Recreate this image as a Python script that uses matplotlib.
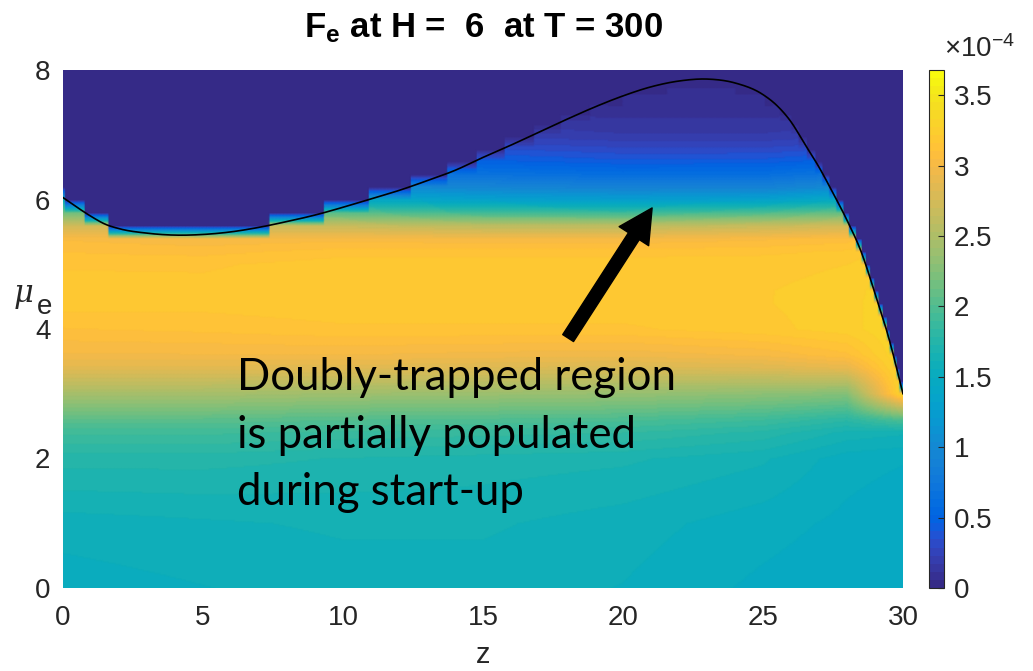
import numpy as np
import matplotlib
matplotlib.use("Agg")
import matplotlib.pyplot as plt
from matplotlib.colors import ListedColormap, Normalize

plt.rcParams["font.family"] = ["Liberation Sans", "DejaVu Sans"]
plt.rcParams["mathtext.fontset"] = "custom"
plt.rcParams["mathtext.rm"] = "Liberation Sans"
plt.rcParams["mathtext.bf"] = "Liberation Sans:bold"
plt.rcParams["mathtext.it"] = "Liberation Sans:italic"

# ---------------- data ----------------
F_UNIT = 1e-4
F_MAX = 3.68  # top of colour scale, in units of 1e-4

z_knots = [0, 5, 10, 15, 20, 25, 28, 30]
mu_knots = [0, 1, 2, 2.5, 3, 3.5, 4, 4.5, 5, 5.3, 5.5, 5.7, 5.9, 6.1, 6.3, 6.5, 6.7, 7.0, 7.4, 8.0]
# rows follow mu_knots, columns follow z_knots (units of 1e-4)
F_table = [
    [1.52, 1.55, 1.58, 1.58, 1.55, 1.48, 1.45, 1.45],
    [1.58, 1.60, 1.62, 1.62, 1.58, 1.52, 1.48, 1.45],
    [1.75, 1.75, 1.72, 1.70, 1.68, 1.62, 1.52, 1.50],
    [1.95, 1.95, 1.92, 1.90, 1.88, 1.80, 1.68, 1.65],
    [2.45, 2.45, 2.40, 2.38, 2.35, 2.30, 2.25, 3.35],
    [2.95, 2.95, 2.95, 2.92, 2.90, 2.95, 3.05, 3.35],
    [3.10, 3.12, 3.15, 3.15, 3.15, 3.20, 3.25, 3.35],
    [3.22, 3.20, 3.22, 3.22, 3.22, 3.22, 3.25, 3.35],
    [3.15, 3.15, 3.20, 3.20, 3.20, 3.20, 3.22, 3.30],
    [3.08, 3.05, 3.10, 3.10, 3.10, 3.12, 3.15, 3.25],
    [3.00, 2.95, 2.95, 2.90, 2.90, 2.95, 3.00, 3.15],
    [2.50, 2.45, 2.40, 2.30, 2.30, 2.40, 2.50, 2.80],
    [1.80, 1.75, 1.70, 1.55, 1.50, 1.60, 1.75, 2.30],
    [1.30, 1.25, 1.20, 1.10, 1.05, 1.05, 1.20, 1.80],
    [0.90, 0.90, 0.85, 0.80, 0.75, 0.75, 0.85, 1.30],
    [0.70, 0.70, 0.65, 0.55, 0.48, 0.50, 0.60, 0.90],
    [0.50, 0.50, 0.48, 0.40, 0.35, 0.35, 0.40, 0.60],
    [0.30, 0.30, 0.28, 0.22, 0.18, 0.18, 0.22, 0.35],
    [0.15, 0.15, 0.13, 0.10, 0.08, 0.08, 0.10, 0.15],
    [0.05, 0.05, 0.05, 0.04, 0.04, 0.04, 0.05, 0.05],
]

# trapping boundary (black curve)
curve_z = [0, 0.5, 1, 1.5, 2, 3, 4, 5, 6, 7, 8, 9, 10, 11, 12, 13, 14, 15, 16, 17,
           18, 19, 20, 21, 22, 23, 24, 25, 25.5, 26, 26.5, 27, 27.5, 28, 28.5, 29, 29.5, 30]
curve_mu = [6.03, 5.88, 5.74, 5.62, 5.55, 5.48, 5.45, 5.46, 5.50, 5.57, 5.66, 5.76, 5.88,
            6.01, 6.14, 6.29, 6.45, 6.65, 6.84, 7.04, 7.24, 7.43, 7.60, 7.74, 7.83, 7.86,
            7.80, 7.62, 7.45, 7.20, 6.85, 6.50, 6.10, 5.68, 5.20, 4.55, 3.85, 3.00]

x_ticks = [0, 5, 10, 15, 20, 25, 30]
y_ticks = [0, 2, 4, 6, 8]
cbar_ticks = [0, 0.5, 1, 1.5, 2, 2.5, 3, 3.5]
cbar_labels = ["0", "0.5", "1", "1.5", "2", "2.5", "3", "3.5"]

title_text = r"$\mathbf{F_e}$ at H =  6  at T = 300"
note_lines = ["Doubly-trapped region", "is partially populated", "during start-up"]
arrow_tail = (18.04, 3.86)
arrow_head = (21.04, 5.87)

# ---------------- colormap (parula) ----------------
PARULA = [
    [0.2081, 0.1663, 0.5292], [0.2116, 0.1898, 0.5777], [0.2123, 0.2138, 0.6270],
    [0.2081, 0.2386, 0.6771], [0.1959, 0.2645, 0.7279], [0.1707, 0.2919, 0.7792],
    [0.1253, 0.3242, 0.8303], [0.0591, 0.3598, 0.8683], [0.0117, 0.3875, 0.8820],
    [0.0060, 0.4086, 0.8828], [0.0165, 0.4266, 0.8786], [0.0329, 0.4430, 0.8720],
    [0.0498, 0.4586, 0.8641], [0.0629, 0.4737, 0.8554], [0.0723, 0.4887, 0.8467],
    [0.0779, 0.5040, 0.8384], [0.0793, 0.5200, 0.8312], [0.0749, 0.5375, 0.8263],
    [0.0641, 0.5570, 0.8240], [0.0488, 0.5772, 0.8228], [0.0343, 0.5966, 0.8199],
    [0.0265, 0.6137, 0.8135], [0.0239, 0.6287, 0.8038], [0.0231, 0.6418, 0.7913],
    [0.0228, 0.6535, 0.7768], [0.0267, 0.6642, 0.7607], [0.0384, 0.6743, 0.7436],
    [0.0590, 0.6838, 0.7254], [0.0843, 0.6928, 0.7062], [0.1133, 0.7015, 0.6859],
    [0.1453, 0.7098, 0.6646], [0.1801, 0.7177, 0.6424], [0.2178, 0.7250, 0.6193],
    [0.2586, 0.7317, 0.5954], [0.3022, 0.7376, 0.5712], [0.3482, 0.7424, 0.5473],
    [0.3953, 0.7459, 0.5244], [0.4420, 0.7481, 0.5033], [0.4871, 0.7491, 0.4840],
    [0.5300, 0.7491, 0.4661], [0.5709, 0.7485, 0.4494], [0.6099, 0.7473, 0.4337],
    [0.6473, 0.7456, 0.4188], [0.6834, 0.7435, 0.4044], [0.7184, 0.7411, 0.3905],
    [0.7525, 0.7384, 0.3768], [0.7858, 0.7356, 0.3633], [0.8185, 0.7327, 0.3498],
    [0.8507, 0.7299, 0.3360], [0.8824, 0.7274, 0.3217], [0.9139, 0.7258, 0.3063],
    [0.9450, 0.7261, 0.2886], [0.9739, 0.7314, 0.2666], [0.9938, 0.7455, 0.2403],
    [0.9990, 0.7653, 0.2164], [0.9955, 0.7861, 0.1967], [0.9880, 0.8066, 0.1794],
    [0.9789, 0.8271, 0.1633], [0.9697, 0.8481, 0.1475], [0.9626, 0.8705, 0.1309],
    [0.9589, 0.8949, 0.1132], [0.9598, 0.9218, 0.0948], [0.9661, 0.9514, 0.0755],
    [0.9763, 0.9831, 0.0538],
]
cmap = ListedColormap(PARULA, name="parula")


def smooth_curve(xk, yk, x):
    """Cubic Hermite through the read points (for drawing / masking)."""
    xk = np.asarray(xk, float)
    yk = np.asarray(yk, float)
    m = np.gradient(yk, xk)
    i = np.clip(np.searchsorted(xk, x, side="right") - 1, 0, len(xk) - 2)
    h = xk[i + 1] - xk[i]
    t = (x - xk[i]) / h
    h00 = 2 * t**3 - 3 * t**2 + 1
    h10 = t**3 - 2 * t**2 + t
    h01 = -2 * t**3 + 3 * t**2
    h11 = t**3 - t**2
    return h00 * yk[i] + h10 * h * m[i] + h01 * yk[i + 1] + h11 * h * m[i + 1]


# ---------------- build the field on the plotting grid ----------------
z_g = np.linspace(0, 30, 601)
mu_g = np.linspace(0, 8, 41)          # coarse velocity grid of the simulation
F_tab = np.asarray(F_table, float)
rows = np.array([np.interp(z_g, z_knots, r) for r in F_tab])
F = np.empty((mu_g.size, z_g.size))
for j in range(z_g.size):
    F[:, j] = np.interp(mu_g, mu_knots, rows[:, j])
boundary = smooth_curve(curve_z, curve_mu, z_g)
F[mu_g[:, None] > boundary[None, :] + 1e-9] = 0.0

# value-space shading (like MATLAB "shading interp")
mu_f = np.linspace(0, 8, 401)
F_f = np.empty((mu_f.size, z_g.size))
for j in range(z_g.size):
    F_f[:, j] = np.interp(mu_f, mu_g, F[:, j])

# ---------------- figure ----------------
W, H = 1033, 671
fig = plt.figure(figsize=(W / 100, H / 100), dpi=100)
ax = fig.add_axes([63 / W, 83 / H, 840 / W, 518 / H])
norm = Normalize(0, F_MAX * F_UNIT)
pcm = ax.pcolormesh(z_g, mu_f, F_f * F_UNIT, shading="gouraud", cmap=cmap, norm=norm)

zd = np.linspace(0, 30, 1200)
ax.plot(zd, smooth_curve(curve_z, curve_mu, zd), color="k", lw=1.2)

ax.set_xlim(0, 30)
ax.set_ylim(0, 8)
ax.set_xticks(x_ticks)
ax.set_yticks(y_ticks)
ax.tick_params(axis="both", length=0, labelsize=20, colors="#262626")
ax.tick_params(axis="x", pad=12)
ax.tick_params(axis="y", pad=9)
for s in ax.spines.values():
    s.set_visible(False)

ax.annotate("", xy=arrow_head, xytext=arrow_tail,
            arrowprops=dict(arrowstyle="simple,head_length=1.1,head_width=1.15,tail_width=0.42",
                            color="k", mutation_scale=22, shrinkA=0, shrinkB=0))

fig.text(484 / W, (H - 37) / H, title_text, ha="center", va="baseline",
         fontsize=25, fontweight="bold", color="k")

fig.text(483 / W, (H - 663) / H, "z", ha="center", va="baseline", fontsize=21, color="#262626")
fig.text(14 / W, (H - 302) / H, "\u03bc", ha="left", va="baseline", fontsize=22,
         family="DejaVu Serif", style="italic", color="#262626")
fig.text(37 / W, (H - 314) / H, "e", ha="left", va="baseline", fontsize=20, color="#262626")

baselines = [390, 448, 505]
for line, yb in zip(note_lines, baselines):
    fig.text(237 / W, (H - yb) / H, line, ha="left", va="baseline",
             fontsize=31.5, family=["Lato", "DejaVu Sans"], color="k")

cax = fig.add_axes([929 / W, 83 / H, 15 / W, 518 / H])
cb = fig.colorbar(pcm, cax=cax)
cb.set_ticks([t * F_UNIT for t in cbar_ticks])
cb.set_ticklabels(cbar_labels)
cb.ax.tick_params(direction="in", length=4, width=0.8, color="#262626",
                  labelsize=20, labelcolor="#262626", pad=7)
cb.outline.set_linewidth(0.8)
cb.outline.set_edgecolor("#262626")
fig.text(944 / W, (H - 57) / H, "\u00d710$^{-4}$", ha="left", va="baseline",
         fontsize=20, color="#262626")

fig.savefig("out.png", dpi=100)
